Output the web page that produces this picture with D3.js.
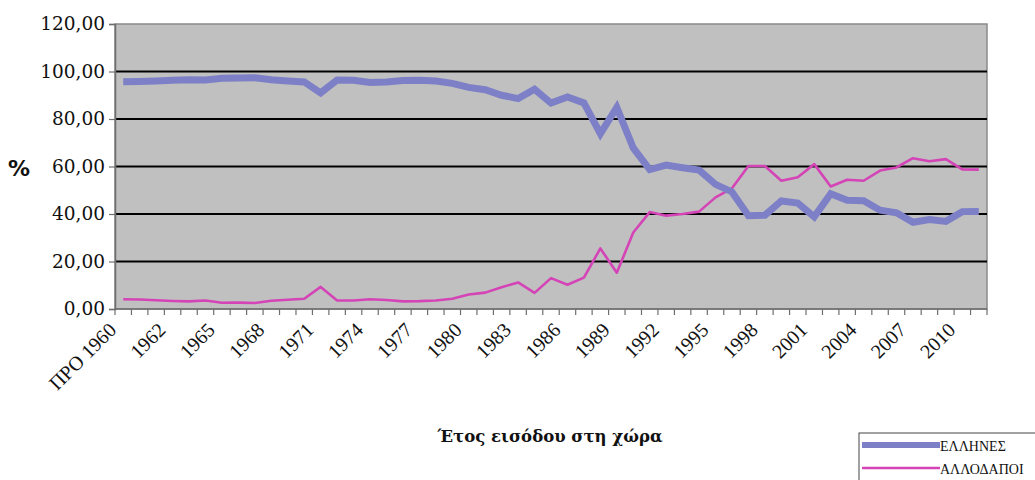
<!DOCTYPE html>
<html>
<head>
<meta charset="utf-8">
<script src="https://cdn.jsdelivr.net/npm/d3@7"></script>
<style>
  html, body { margin: 0; padding: 0; background: #ffffff; }
  svg { display: block; }
</style>
</head>
<body>
<svg id="chart" width="1035" height="480"></svg>
<script>
// ---------- data ----------
const categories = ["ΠΡΟ 1960"].concat(d3.range(1960, 2012).map(String));

const greeks = [
  95.7, 95.8, 96.0, 96.3, 96.5, 96.4, 97.2, 97.3, 97.4, 96.5,
  96.0, 95.6, 91.0, 96.4, 96.3, 95.4, 95.6, 96.2, 96.3, 96.0,
  95.0, 93.3, 92.3, 90.0, 88.6, 92.5, 86.7, 89.3, 86.8, 73.8,
  84.9, 67.8, 58.7, 60.6, 59.5, 58.5, 52.5, 49.3, 39.3, 39.5,
  45.5, 44.6, 38.8, 48.5, 45.8, 45.6, 41.6, 40.5, 36.5, 37.7,
  36.9, 41.0, 41.1
];

const foreigners = [
  4.1, 4.0, 3.7, 3.4, 3.2, 3.6, 2.6, 2.7, 2.5, 3.5,
  3.9, 4.3, 9.3, 3.6, 3.6, 4.1, 3.8, 3.2, 3.3, 3.6,
  4.3, 6.1, 6.9, 9.2, 11.2, 6.8, 13.0, 10.2, 13.2, 25.5,
  15.3, 32.2, 40.8, 39.3, 40.0, 41.0, 47.0, 50.8, 60.2, 60.2,
  54.0, 55.5, 61.0, 51.6, 54.4, 54.0, 58.3, 59.6, 63.5, 62.2,
  63.1, 58.8, 58.7
];

const yTicks = [0, 20, 40, 60, 80, 100, 120];
const xLabelEvery = 3; // ΠΡΟ 1960, 1962, 1965, ...
const seriesNames = ["ΕΛΛΗΝΕΣ", "ΑΛΛΟΔΑΠΟΙ"];
const yAxisTitle = "%";
const xAxisTitle = "Έτος εισόδου στη χώρα";

// ---------- layout ----------
const svg = d3.select("#chart");
const plot = { left: 115, right: 987, top: 24, bottom: 309 };

const x = d3.scaleBand()
  .domain(categories)
  .range([plot.left, plot.right])
  .paddingInner(0).paddingOuter(0);
const cx = c => x(c) + x.bandwidth() / 2;

const y = d3.scaleLinear()
  .domain([0, 120])
  .range([plot.bottom, plot.top]);

// plot background
svg.append("rect")
  .attr("x", plot.left).attr("y", plot.top)
  .attr("width", plot.right - plot.left)
  .attr("height", plot.bottom - plot.top)
  .attr("fill", "#c0c0c0")
  .attr("stroke", "#8a8a8a")
  .attr("stroke-width", 1.5);

// gridlines
svg.append("g")
  .selectAll("line")
  .data(yTicks.filter(v => v > 0 && v < 120))
  .join("line")
  .attr("x1", plot.left).attr("x2", plot.right)
  .attr("y1", d => y(d)).attr("y2", d => y(d))
  .attr("stroke", "#000")
  .attr("stroke-width", 2);

// y axis
const yAxis = d3.axisLeft(y)
  .tickValues(yTicks)
  .tickSize(6)
  .tickPadding(4)
  .tickFormat(d => d3.format(".2f")(d).replace(".", ","));
const gy = svg.append("g")
  .attr("transform", `translate(${plot.left},0)`)
  .call(yAxis);
gy.select(".domain").attr("stroke", "#6e6e6e").attr("stroke-width", 1.5);
gy.selectAll(".tick line").attr("stroke", "#6e6e6e").attr("stroke-width", 1.2);
gy.selectAll(".tick text")
  .attr("font-family", "DejaVu Serif, serif")
  .attr("font-size", 18.5)
  .attr("fill", "#111");

// x axis: ticks at category boundaries
const boundaries = categories.map(c => x(c)).concat([plot.right]);
const gx = svg.append("g");
gx.append("line")
  .attr("x1", plot.left).attr("x2", plot.right)
  .attr("y1", plot.bottom).attr("y2", plot.bottom)
  .attr("stroke", "#6e6e6e").attr("stroke-width", 1.5);
gx.selectAll("line.tk")
  .data(boundaries)
  .join("line")
  .attr("class", "tk")
  .attr("x1", d => d).attr("x2", d => d)
  .attr("y1", plot.bottom).attr("y2", plot.bottom + 6)
  .attr("stroke", "#6e6e6e").attr("stroke-width", 1.2);

gx.selectAll("text.xl")
  .data(categories.filter((c, i) => i === 0 || i % xLabelEvery === 0))
  .join("text")
  .attr("class", "xl")
  .attr("transform", d => `translate(${cx(d) - 9},${plot.bottom + 19}) rotate(-45)`)
  .attr("text-anchor", "end")
  .attr("dominant-baseline", "middle")
  .attr("font-family", "Liberation Serif, serif")
  .attr("font-size", 20)
  .attr("fill", "#111")
  .text(d => d);

// lines
const line = d3.line()
  .x((d, i) => cx(categories[i]))
  .y(d => y(d));

svg.append("path")
  .datum(foreigners)
  .attr("d", line)
  .attr("fill", "none")
  .attr("stroke", "#d444b6")
  .attr("stroke-width", 2.6)
  .attr("stroke-linejoin", "round");

svg.append("path")
  .datum(greeks)
  .attr("d", line)
  .attr("fill", "none")
  .attr("stroke", "#7d80c6")
  .attr("stroke-width", 7)
  .attr("stroke-linejoin", "miter");

// axis titles
svg.append("text")
  .attr("x", 19).attr("y", 170)
  .attr("text-anchor", "middle")
  .attr("dominant-baseline", "middle")
  .attr("font-family", "DejaVu Sans, sans-serif")
  .attr("font-weight", "bold")
  .attr("font-size", 22)
  .attr("fill", "#111")
  .text(yAxisTitle);

svg.append("text")
  .attr("x", 550).attr("y", 442)
  .attr("text-anchor", "middle")
  .attr("font-family", "DejaVu Serif, serif")
  .attr("font-weight", "bold")
  .attr("font-size", 16.5)
  .attr("fill", "#111")
  .text(xAxisTitle);

// legend
const lg = svg.append("g");
lg.append("rect")
  .attr("x", 859).attr("y", 433)
  .attr("width", 200).attr("height", 60)
  .attr("fill", "#fff")
  .attr("stroke", "#444")
  .attr("stroke-width", 1);
const legendItems = [
  { name: seriesNames[0], color: "#7d80c6", w: 6 },
  { name: seriesNames[1], color: "#d444b6", w: 2.6 }
];
legendItems.forEach((it, i) => {
  const yy = 445 + i * 23;
  lg.append("line")
    .attr("x1", 862).attr("x2", 940)
    .attr("y1", yy).attr("y2", yy)
    .attr("stroke", it.color).attr("stroke-width", it.w);
  lg.append("text")
    .attr("x", 940).attr("y", yy + 6)
    .attr("font-family", "Liberation Serif, serif")
    .attr("font-size", 14)
    .attr("fill", "#111")
    .text(it.name);
});
</script>
</body>
</html>
